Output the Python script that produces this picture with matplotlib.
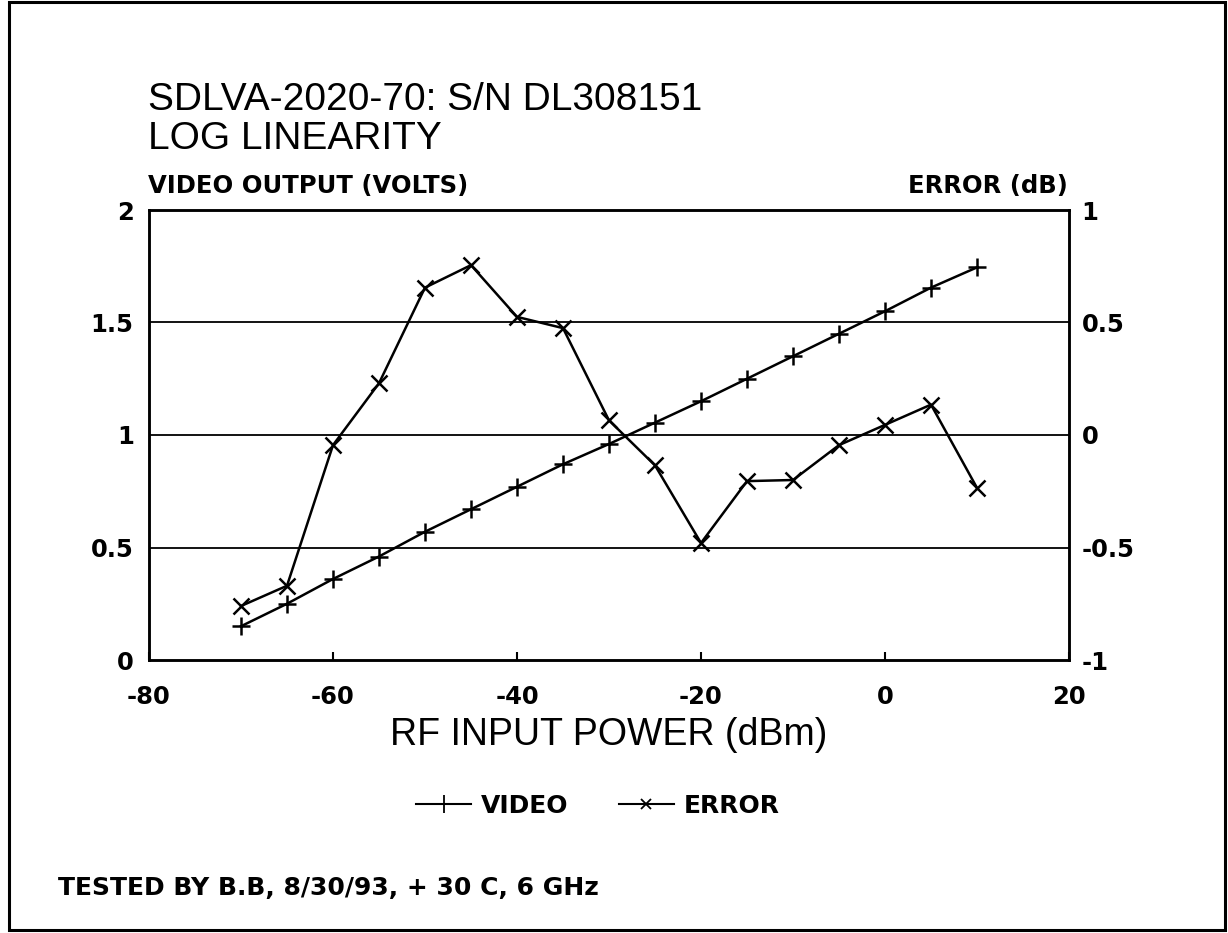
import matplotlib
matplotlib.use("Agg")
import matplotlib.pyplot as plt
from matplotlib.lines import Line2D
from matplotlib.patches import Rectangle

plt.rcParams['font.family'] = ['Liberation Sans', 'DejaVu Sans']

# ---- data ----
rf_power = [-70, -65, -60, -55, -50, -45, -40, -35, -30, -25, -20, -15, -10, -5, 0, 5, 10]
video_volts = [0.15, 0.25, 0.36, 0.46, 0.57, 0.67, 0.77, 0.87, 0.96, 1.055, 1.15, 1.25, 1.35,
               1.45, 1.55, 1.655, 1.745]
error_db = [-0.76, -0.67, -0.045, 0.23, 0.655, 0.755, 0.525, 0.475, 0.065, -0.135, -0.48,
            -0.205, -0.20, -0.045, 0.045, 0.135, -0.235]

x_ticks = [-80, -60, -40, -20, 0, 20]
x_ticklabels = ["-80", "-60", "-40", "-20", "0", "20"]
left_ticks = [0, 0.5, 1, 1.5, 2]
left_ticklabels = ["0", "0.5", "1", "1.5", "2"]
right_ticks = [-1, -0.5, 0, 0.5, 1]
right_ticklabels = ["-1", "-0.5", "0", "0.5", "1"]
grid_levels = [0.5, 1.0, 1.5]

W, H = 1228, 933
fig = plt.figure(figsize=(W / 100, H / 100), dpi=100)

def fx(px):
    return px / W

def fy(py):
    return 1 - py / H

BOLD = {'family': ['DejaVu Sans'], 'weight': 'bold', 'size': 17.5}

ax = fig.add_axes([fx(149), fy(660), fx(1069) - fx(149), fy(210) - fy(660)])
ax2 = ax.twinx()

ax.set_xlim(-80, 20)
ax.set_ylim(0, 2)
ax2.set_ylim(-1, 1)

for g in grid_levels:
    ax.axhline(g, color='black', lw=1.3, zorder=1)

ax.plot(rf_power, video_volts, color='black', lw=1.8, marker='+', markersize=13,
        markeredgewidth=1.8, zorder=3)
ax2.plot(rf_power, error_db, color='black', lw=1.8, marker='x', markersize=11,
         markeredgewidth=1.8, zorder=3)

for a in (ax, ax2):
    for s in a.spines.values():
        s.set_linewidth(1.8)
        s.set_color('black')

ax.set_xticks(x_ticks)
ax.set_xticklabels(x_ticklabels, fontdict=BOLD)
ax.tick_params(axis='x', direction='in', length=6, width=1.5, pad=18)
ax.set_yticks(left_ticks)
ax.set_yticklabels(left_ticklabels, fontdict=BOLD)
ax.tick_params(axis='y', length=0, pad=11)
ax2.set_yticks(right_ticks)
ax2.set_yticklabels(right_ticklabels, fontdict=BOLD)
ax2.tick_params(axis='y', length=0, pad=9)

fig.text(fx(148), fy(100), "SDLVA-2020-70: S/N DL308151", fontsize=28, ha='left', va='center')
fig.text(fx(148), fy(139), "LOG LINEARITY", fontsize=28, ha='left', va='center')
fig.text(fx(148), fy(186), "VIDEO OUTPUT (VOLTS)", fontdict=BOLD, ha='left', va='center')
fig.text(fx(1068), fy(186), "ERROR (dB)", fontdict=BOLD, ha='right', va='center')
fig.text(fx(609), fy(735), "RF INPUT POWER (dBm)", fontsize=27, ha='center', va='center')
fig.text(fx(58), fy(888), "TESTED BY B.B, 8/30/93, + 30 C, 6 GHz",
         fontdict={'family': ['DejaVu Sans'], 'weight': 'bold', 'size': 18},
         ha='left', va='center')

handles = [Line2D([], [], color='black', lw=1.5, marker='+', markersize=13, markeredgewidth=1.3),
           Line2D([], [], color='black', lw=1.5, marker='x', markersize=7, markeredgewidth=1.3)]
fig.legend(handles, ["VIDEO", "ERROR"], loc='center', bbox_to_anchor=(fx(598), fy(806)),
           ncol=2, frameon=False, prop={'family': ['DejaVu Sans'], 'size': 18, 'weight': 'bold'},
           handlelength=2.2, handletextpad=0.4, columnspacing=2.0)

fig.patches.append(Rectangle((fx(9), fy(930)), fx(1225) - fx(9), fy(2) - fy(930),
                             transform=fig.transFigure, fill=False, edgecolor='black',
                             lw=2.2))

fig.savefig("out.png", dpi=100)
